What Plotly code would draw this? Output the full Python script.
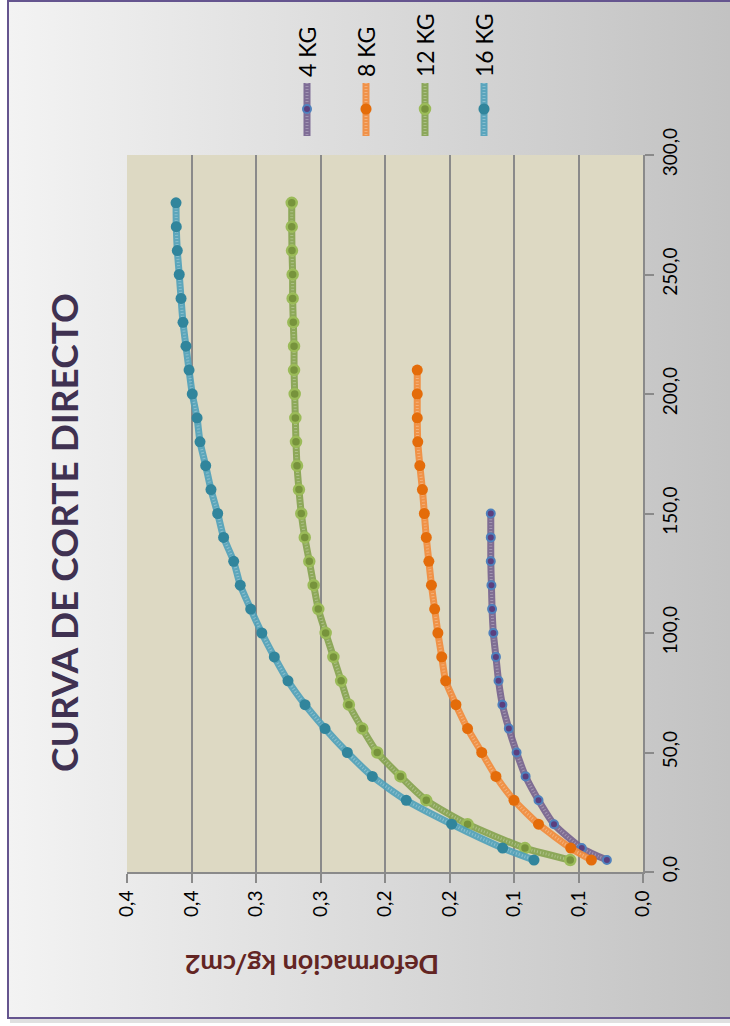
import base64
import plotly.graph_objects as go

# Deformation readings (x of the test) and shear stress for each normal load
deform_4 = [5, 10, 20, 30, 40, 50, 60, 70, 80, 90, 100, 110, 120, 130, 140, 150]
shear_4 = [0.028, 0.0475, 0.069, 0.081, 0.091, 0.098, 0.104, 0.109, 0.112, 0.114,
           0.116, 0.117, 0.1175, 0.118, 0.118, 0.118]

deform_8 = [5, 10, 20, 30, 40, 50, 60, 70, 80, 90, 100, 110, 120, 130, 140, 150,
            160, 170, 180, 190, 200, 210]
shear_8 = [0.040, 0.056, 0.081, 0.100, 0.114, 0.125, 0.136, 0.145, 0.153, 0.156,
           0.159, 0.1615, 0.164, 0.166, 0.168, 0.1695, 0.171, 0.173, 0.1746, 0.175,
           0.175, 0.175]

deform_12 = [5, 10, 20, 30, 40, 50, 60, 70, 80, 90, 100, 110, 120, 130, 140, 150,
             160, 170, 180, 190, 200, 210, 220, 230, 240, 250, 260, 270, 280]
shear_12 = [0.0564, 0.0915, 0.136, 0.168, 0.188, 0.206, 0.2176, 0.228, 0.234, 0.240,
            0.246, 0.2517, 0.2553, 0.2587, 0.2622, 0.2649, 0.2667, 0.2682, 0.269,
            0.2695, 0.270, 0.2705, 0.2705, 0.2711, 0.2716, 0.2716, 0.2721, 0.2723,
            0.2723]

deform_16 = [5, 10, 20, 30, 40, 50, 60, 70, 80, 90, 100, 110, 120, 130, 140, 150,
             160, 170, 180, 190, 200, 210, 220, 230, 240, 250, 260, 270, 280]
shear_16 = [0.0845, 0.1088, 0.1483, 0.1835, 0.2098, 0.2292, 0.2465, 0.262, 0.2752,
            0.2858, 0.2955, 0.3041, 0.3122, 0.3173, 0.3251, 0.3297, 0.3349, 0.339,
            0.3434, 0.3457, 0.3494, 0.3519, 0.3543, 0.3566, 0.3581, 0.3595, 0.361,
            0.3618, 0.362]

series_names = ["4 KG", "8 KG", "12 KG", "16 KG"]

shear_ticks = [0.0, 0.05, 0.1, 0.15, 0.2, 0.25, 0.3, 0.35, 0.4]
shear_tick_text = ["0,0", "0,1", "0,1", "0,2", "0,2", "0,3", "0,3", "0,4", "0,4"]
deform_ticks = [0, 50, 100, 150, 200, 250, 300]
deform_tick_text = ["0,0", "50,0", "100,0", "150,0", "200,0", "250,0", "300,0"]

W, H = 730, 1026
FONT = "Lato"


def px(x):
    return x / W


def py(y):
    return 1 - y / H


# Styling per series: line colour, marker fill, marker outline, marker size
styles = [
    dict(line="rgba(116,96,142,0.9)", fill="#5b3f7e", edge="#4f81bd", size=8, edgew=2),
    dict(line="rgba(242,138,58,0.9)", fill="#e46c0a", edge="#e46c0a", size=11, edgew=0),
    dict(line="rgba(132,162,78,0.9)", fill="#77933c", edge="#9bbb59", size=10, edgew=2.5),
    dict(line="rgba(78,160,186,0.9)", fill="#31859c", edge="#31859c", size=11, edgew=0),
]

data = [(deform_4, shear_4), (deform_8, shear_8), (deform_12, shear_12), (deform_16, shear_16)]

fig = go.Figure()
for name, (d, s), st in zip(series_names, data, styles):
    # thick patterned line: solid band with a fine light dotted weave over it
    fig.add_trace(go.Scatter(
        x=s, y=d, mode="lines", hoverinfo="skip", showlegend=False,
        line=dict(color=st["line"], width=7, shape="spline", smoothing=0.6),
    ))
    fig.add_trace(go.Scatter(
        x=s, y=d, mode="lines", hoverinfo="skip", showlegend=False,
        line=dict(color="rgba(255,255,255,0.28)", width=3, dash="1px,2px",
                  shape="spline", smoothing=0.6),
    ))
    fig.add_trace(go.Scatter(
        x=s, y=d, name=name, mode="markers", showlegend=False,
        marker=dict(color=st["fill"], size=st["size"],
                    line=dict(color=st["edge"], width=st["edgew"])),
    ))

# Background panel with a horizontal grey gradient and a framed border
svg = (
    '<svg xmlns="http://www.w3.org/2000/svg" width="722" height="1017" '
    'viewBox="0 0 722 1017" preserveAspectRatio="none">'
    '<defs><linearGradient id="g" x1="0" x2="1" y1="0" y2="0">'
    '<stop offset="0" stop-color="#f3f3f3"/><stop offset="1" stop-color="#c2c2c2"/>'
    '</linearGradient></defs>'
    '<rect width="722" height="1017" fill="url(#g)"/></svg>'
)
src = "data:image/svg+xml;base64," + base64.b64encode(svg.encode()).decode()
fig.add_layout_image(dict(
    source=src, xref="paper", yref="paper", x=px(8), y=py(1),
    sizex=px(722), sizey=1017 / H, xanchor="left", yanchor="top",
    sizing="stretch", layer="below",
))

shapes = [
    # plot area fill
    dict(type="rect", xref="x domain", yref="y domain", x0=0, x1=1, y0=0, y1=1,
         fillcolor="#ddd9c3", line=dict(width=0), layer="below"),
    # drop shadow and frame
    dict(type="line", xref="paper", yref="paper", x0=px(10), x1=px(730), y0=py(1021), y1=py(1021),
         line=dict(color="rgba(0,0,0,0.12)", width=4), layer="below"),
    dict(type="rect", xref="paper", yref="paper", x0=px(8), x1=px(740), y0=py(1018), y1=py(1),
         line=dict(color="#65558f", width=2), fillcolor="rgba(0,0,0,0)", layer="above"),
]

# Legend keys drawn vertically
legend_x = [307, 366, 425, 484]
for lx, st, name in zip(legend_x, styles, series_names):
    shapes.append(dict(type="line", xref="paper", yref="paper", x0=px(lx), x1=px(lx),
                       y0=py(83), y1=py(136), line=dict(color=st["line"], width=7)))
    shapes.append(dict(type="line", xref="paper", yref="paper", x0=px(lx), x1=px(lx),
                       y0=py(83), y1=py(136),
                       line=dict(color="rgba(255,255,255,0.28)", width=3, dash="1px,2px")))
    r = st["size"] / 2
    shapes.append(dict(type="circle", xref="paper", yref="paper",
                       x0=px(lx - r), x1=px(lx + r), y0=py(109 + r), y1=py(109 - r),
                       fillcolor=st["fill"], line=dict(color=st["edge"], width=max(st["edgew"], 0.1))))

annotations = [
    dict(text="<b>CURVA DE CORTE DIRECTO</b>", xref="paper", yref="paper",
         x=px(63), y=py(533), xanchor="center", yanchor="middle", textangle=-90,
         showarrow=False, font=dict(family=FONT, size=37, color="#3f3151")),
    dict(text="<b>Deformación kg/cm2</b>", xref="paper", yref="paper",
         x=px(312), y=py(966), xanchor="center", yanchor="middle", textangle=180,
         showarrow=False, font=dict(family=FONT, size=27, color="#632523")),
]
for lx, name in zip(legend_x, series_names):
    annotations.append(dict(text=name, xref="paper", yref="paper", x=px(lx), y=py(79),
                            xanchor="center", yanchor="bottom", textangle=-90, showarrow=False,
                            font=dict(family=FONT, size=23, color="#000000")))

fig.update_layout(
    width=W, height=H,
    margin=dict(l=0, r=0, t=0, b=0),
    paper_bgcolor="#ffffff",
    plot_bgcolor="rgba(0,0,0,0)",
    shapes=shapes,
    annotations=annotations,
    showlegend=False,
    xaxis=dict(
        domain=[px(127), px(643)], range=[0.4, 0.0],
        tickvals=shear_ticks, ticktext=shear_tick_text, tickangle=-90,
        ticks="outside", ticklen=9, tickwidth=2, tickcolor="#8a8a8a",
        showgrid=True, gridcolor="#8a8a8a", gridwidth=2,
        showline=True, linecolor="#8a8a8a", linewidth=2,
        zeroline=False, automargin=False,
        tickfont=dict(family=FONT, size=19, color="#000000"),
    ),
    yaxis=dict(
        domain=[py(872), py(155)], range=[0, 300], side="right",
        tickvals=deform_ticks, ticktext=deform_tick_text, tickangle=-90,
        ticks="outside", ticklen=9, tickwidth=2, tickcolor="#8a8a8a",
        showgrid=False, showline=True, linecolor="#8a8a8a", linewidth=2,
        zeroline=False, automargin=False,
        tickfont=dict(family=FONT, size=19, color="#000000"),
    ),
)

fig.write_html("out.html")
